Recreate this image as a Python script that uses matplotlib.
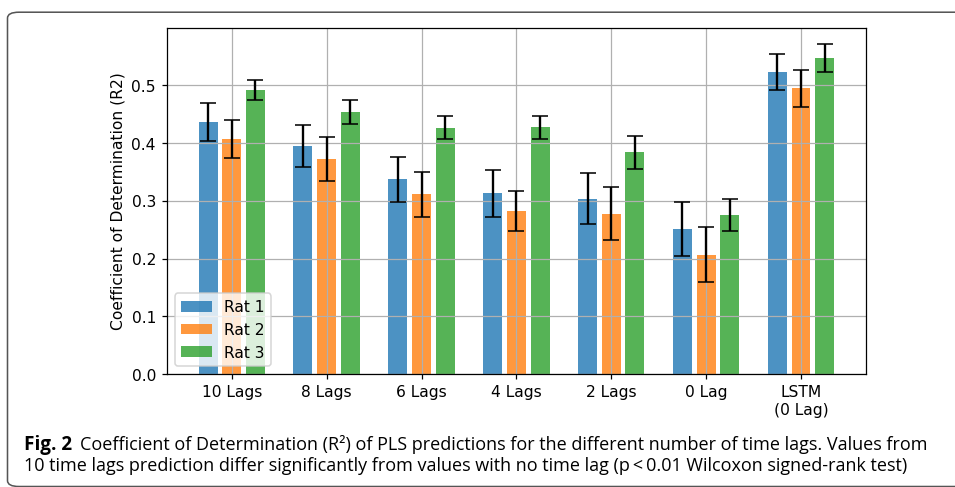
import matplotlib
matplotlib.use("Agg")
import matplotlib.pyplot as plt
from matplotlib.patches import FancyBboxPatch
import numpy as np

groups = ['10 Lags', '8 Lags', '6 Lags', '4 Lags', '2 Lags', '0 Lag', 'LSTM\n(0 Lag)']
rat1 = [0.436, 0.395, 0.338, 0.313, 0.304, 0.252, 0.523]
rat2 = [0.408, 0.373, 0.312, 0.283, 0.278, 0.207, 0.495]
rat3 = [0.492, 0.454, 0.427, 0.428, 0.384, 0.276, 0.547]
rat1_err = [0.033, 0.037, 0.039, 0.040, 0.044, 0.047, 0.031]
rat2_err = [0.033, 0.038, 0.039, 0.035, 0.046, 0.048, 0.032]
rat3_err = [0.018, 0.020, 0.020, 0.020, 0.029, 0.028, 0.024]
series = [('Rat 1', rat1, rat1_err), ('Rat 2', rat2, rat2_err), ('Rat 3', rat3, rat3_err)]

dpi = 112
fig = plt.figure(figsize=(955.3 / dpi, 487.3 / dpi), dpi=dpi)
ax = fig.add_axes([0.1746, 0.2314, 0.9065 - 0.1746, 0.9419 - 0.2314])

x = np.arange(len(groups))
width = 0.2
colors = ['tab:blue', 'tab:orange', 'tab:green']
for i, (name, vals, err) in enumerate(series):
    ax.bar(x + (i - 1) * 0.25, vals, width, yerr=err, capsize=5,
           color=colors[i], alpha=0.8, label=name)

ax.set_xticks(x)
ax.set_xticklabels(groups)
ax.set_yticks([0.0, 0.1, 0.2, 0.3, 0.4, 0.5])
ax.set_ylim(0, 0.5995)
ax.set_ylabel('Coefficient of Determination (R2)')
ax.grid(True)
ax.legend(loc='lower left')

# caption box
fig.patches.append(FancyBboxPatch((7.5 / 955, 0.5 / 487), 1.2, (476 - 11) / 487 + 9 / 487,
                                  boxstyle='round,pad=0,rounding_size=0.012',
                                  transform=fig.transFigure, fill=False,
                                  edgecolor='#555555', linewidth=1.0))

cap_font = ['Liberation Sans Narrow', 'Open Sans', 'DejaVu Sans']
line1 = 'Coefficient of Determination (R\u00b2) of PLS predictions for the different number of time lags. Values from'
line2 = '10 time lags prediction differ significantly from values with no time lag (p\u2009<\u20090.01 Wilcoxon signed-rank test)'

y1 = 1 - 449.3 / 487
y2 = 1 - 470.7 / 487
t_fig = fig.text(24 / 955, y1, 'Fig. 2', fontsize=11, fontweight='bold', family=cap_font, va='baseline')
t2 = fig.text(24 / 955, y2, line2, fontsize=11, family=cap_font, va='baseline')

fig.canvas.draw()
r = fig.canvas.get_renderer()
size = 11 * 889 / t2.get_window_extent(r).width
t2.set_fontsize(size)
t_fig.set_fontsize(size * 1.05)
fig.canvas.draw()
fig_end = t_fig.get_window_extent(r).x1
fig.text((fig_end + 8) / 955, y1, line1, fontsize=size, family=cap_font, va='baseline')

fig.savefig('out.png', dpi=dpi)
